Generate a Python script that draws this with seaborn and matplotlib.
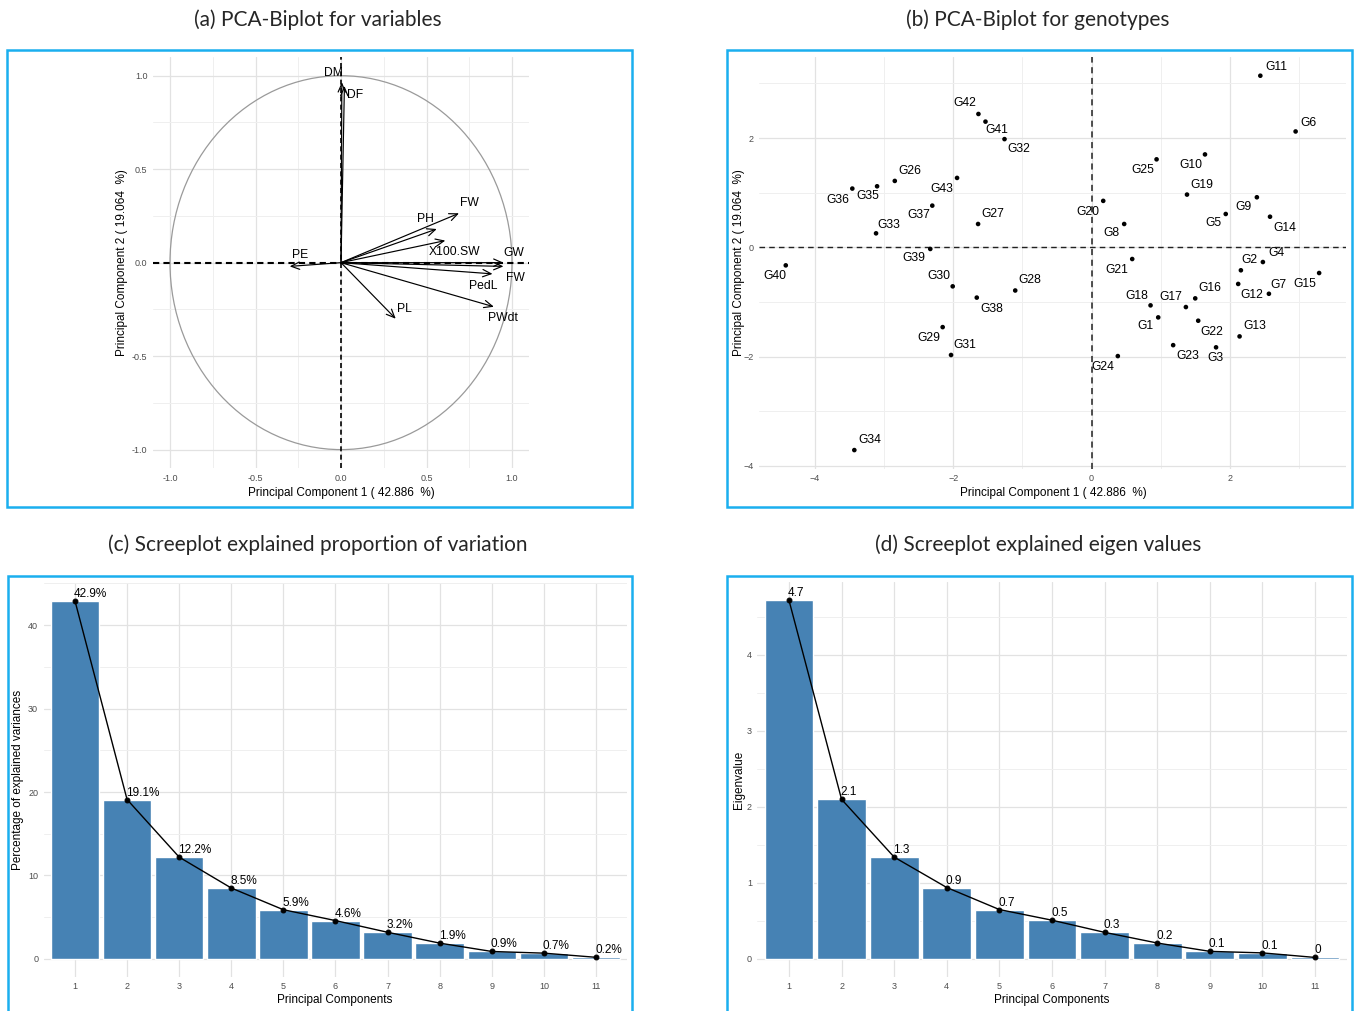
import numpy as np
import pandas as pd
import matplotlib
matplotlib.use("Agg")
import matplotlib.pyplot as plt
import seaborn as sns
from matplotlib.patches import Rectangle, Ellipse
from matplotlib.ticker import MultipleLocator, FixedLocator

# ---------------- data ----------------
pc1_pct = 42.886
pc2_pct = 19.064

var_names = ["DM", "DF", "FW", "PH", "X100.SW", "GW", "FW", "PedL", "PWdt", "PL", "PE"]
var_pc1 = [0.005, 0.02, 0.69, 0.56, 0.61, 0.95, 0.95, 0.886, 0.894, 0.32, -0.30]
var_pc2 = [0.965, 0.945, 0.264, 0.18, 0.118, 0.0, -0.02, -0.06, -0.236, -0.30, -0.02]

geno_names = ["G%d" % i for i in range(1, 44)]
geno_pc1 = [0.964, 2.159, 1.80, 2.477, 1.94, 2.95, 2.564, 0.472, 2.39, 1.64,
            2.44, 2.12, 2.14, 2.58, 3.29, 1.499, 1.364, 0.853, 1.38, 0.169,
            0.588, 1.542, 1.18, 0.38, 0.94, -2.844, -1.64, -1.103, -2.152, -2.007,
            -2.031, -1.258, -3.115, -3.429, -3.10, -3.458, -2.302, -1.659, -2.331, -4.42,
            -1.533, -1.635, -1.944]
geno_pc2 = [-1.282, -0.42, -1.83, -0.269, 0.61, 2.12, -0.85, 0.427, 0.916, 1.70,
            3.14, -0.67, -1.63, 0.56, -0.47, -0.934, -1.093, -1.062, 0.965, 0.85,
            -0.214, -1.343, -1.79, -1.99, 1.61, 1.215, 0.427, -0.79, -1.46, -0.714,
            -1.97, 1.98, 0.256, -3.71, 1.117, 1.075, 0.763, -0.92, -0.03, -0.33,
            2.30, 2.44, 1.27]

pc_labels = [str(i) for i in range(1, 12)]
pct_var = [42.9, 19.1, 12.2, 8.5, 5.9, 4.6, 3.2, 1.9, 0.9, 0.7, 0.2]
eigenvalues = [4.72, 2.10, 1.34, 0.94, 0.65, 0.51, 0.35, 0.21, 0.10, 0.08, 0.02]

# label placement (pixel offsets, +y = up)
var_label_off = [(-8, 9), (11, -9), (10, 10), (-11, 10), (9, -11), (10, 10),
                 (12, -12), (-9, -12), (9, -11), (9, 10), (10, 11)]
geno_label_off = {
    "G1": (-13, -9), "G2": (9, 10), "G3": (-1, -11), "G4": (14, 9), "G5": (-12, -9),
    "G6": (13, 8), "G7": (10, 9), "G8": (-13, -9), "G9": (-13, -10), "G10": (-14, -11),
    "G11": (16, 9), "G12": (14, -11), "G13": (15, 10), "G14": (15, -11), "G15": (-14, -11),
    "G16": (15, 10), "G17": (-15, 10), "G18": (-14, 9), "G19": (15, 10), "G20": (-15, -11),
    "G21": (-15, -11), "G22": (14, -11), "G23": (15, -11), "G24": (-15, -11), "G25": (-14, -11),
    "G26": (15, 10), "G27": (15, 10), "G28": (15, 10), "G29": (-14, -11), "G30": (-14, 10),
    "G31": (14, 10), "G32": (14, -10), "G33": (13, 8), "G34": (15, 10), "G35": (-9, -10),
    "G36": (-15, -11), "G37": (-13, -9), "G38": (15, -11), "G39": (-16, -9), "G40": (-11, -11),
    "G41": (11, -8), "G42": (-14, 11), "G43": (-15, -11),
}

# ---------------- style ----------------
sns.set_theme(style="white")
plt.rcParams["font.family"] = ["Liberation Sans", "DejaVu Sans"]

W, H = 1355, 1011
fig = plt.figure(figsize=(W / 100, H / 100), dpi=100)
fig.patch.set_facecolor("white")

BORDER = "#1AAFEF"
GRID_MAJ = "#E2E2E2"
GRID_MIN = "#EFEFEF"
TICK_C = "#4D4D4D"
TITLE_FONT = ["Lato", "DejaVu Sans"]


def add_ax(l, t, r, b):
    return fig.add_axes([l / W, 1 - b / H, (r - l) / W, (b - t) / H])


def border(l, t, r, b):
    fig.add_artist(Rectangle((l / W, 1 - b / H), (r - l) / W, (b - t) / H,
                             transform=fig.transFigure, fill=False,
                             ec=BORDER, lw=1.8, zorder=10))


def style_ax(ax):
    ax.set_facecolor("white")
    for s in ax.spines.values():
        s.set_visible(False)
    ax.grid(True, which="major", color=GRID_MAJ, lw=0.9, zorder=0)
    ax.grid(True, which="minor", color=GRID_MIN, lw=0.7, zorder=0)
    ax.set_axisbelow(True)
    ax.tick_params(which="major", length=2.5, width=0.9, color="#333333",
                   labelsize=6.5, labelcolor=TICK_C, pad=1.5)
    ax.tick_params(which="minor", length=0)


def place_labels(ax, xlab, ylab, xc, yc, yxc, yyc):
    # centers in figure pixels -> axes coords
    bb = ax.get_position()
    def to_axes(px, py):
        fx, fy = px / W, 1 - py / H
        return (fx - bb.x0) / bb.width, (fy - bb.y0) / bb.height
    ax.set_xlabel(xlab, fontsize=8.5, color="black", va="center")
    ax.set_ylabel(ylab, fontsize=8.5, color="black", va="center")
    ax.xaxis.set_label_coords(*to_axes(xc, yc))
    ax.yaxis.set_label_coords(*to_axes(yxc, yyc))


# ---------------- panel borders & titles ----------------
border(7, 50, 632, 507)
border(727, 50, 1352, 507)
border(8, 576, 632, 1040)
border(727, 576, 1352, 1040)

fig.text(318 / W, 1 - 20 / H, "(a) PCA-Biplot for variables", ha="center", va="center",
         fontsize=15, family=TITLE_FONT)
fig.text(1038 / W, 1 - 20 / H, "(b) PCA-Biplot for genotypes", ha="center", va="center",
         fontsize=15, family=TITLE_FONT)
fig.text(318 / W, 1 - 545 / H, "(c) Screeplot explained proportion of variation", ha="center",
         va="center", fontsize=15, family=TITLE_FONT)
fig.text(1038 / W, 1 - 545 / H, "(d) Screeplot explained eigen values", ha="center",
         va="center", fontsize=15, family=TITLE_FONT)

# ---------------- (a) variables ----------------
axa = add_ax(152.9, 57, 529.1, 468.3)
style_ax(axa)
axa.set_xlim(-1.1, 1.1)
axa.set_ylim(-1.1, 1.1)
axa.xaxis.set_major_locator(FixedLocator([-1.0, -0.5, 0.0, 0.5, 1.0]))
axa.yaxis.set_major_locator(FixedLocator([-1.0, -0.5, 0.0, 0.5, 1.0]))
axa.xaxis.set_minor_locator(FixedLocator([-0.75, -0.25, 0.25, 0.75]))
axa.yaxis.set_minor_locator(FixedLocator([-0.75, -0.25, 0.25, 0.75]))
axa.set_xticklabels(["-1.0", "-0.5", "0.0", "0.5", "1.0"])
axa.set_yticklabels(["-1.0", "-0.5", "0.0", "0.5", "1.0"])
axa.add_patch(Ellipse((0, 0), 2, 2, fill=False, ec="#9A9A9A", lw=0.9, zorder=2))
axa.axhline(0, color="black", lw=1.5, ls=(0, (3, 2)), zorder=3)
axa.axvline(0, color="black", lw=1.2, ls=(0, (3, 2)), zorder=3)
dfv = pd.DataFrame({"name": var_names, "PC1": var_pc1, "PC2": var_pc2})
for (nm, x, y), off in zip(dfv.itertuples(index=False), var_label_off):
    axa.annotate("", xy=(x, y), xytext=(0, 0),
                 arrowprops=dict(arrowstyle="->,head_length=0.5,head_width=0.22",
                                 color="black", lw=0.85, shrinkA=0, shrinkB=0),
                 zorder=4)
    axa.annotate(nm, xy=(x, y), xytext=off, textcoords="offset pixels",
                 ha="center", va="center", fontsize=8.7, color="black", zorder=5)
place_labels(axa, "Principal Component 1 ( %.3f  %%)" % pc1_pct,
             "Principal Component 2 ( %.3f  %%)" % pc2_pct,
             341, 493, 122, 263)

# ---------------- (b) genotypes ----------------
axb = add_ax(759.1, 57, 1345.8, 468.8)
style_ax(axb)
dfg = pd.DataFrame({"name": geno_names, "PC1": geno_pc1, "PC2": geno_pc2})
sns.scatterplot(data=dfg, x="PC1", y="PC2", color="black", s=11, edgecolor="none",
                ax=axb, zorder=4)
xr = dfg.PC1.max() - dfg.PC1.min()
yr = dfg.PC2.max() - dfg.PC2.min()
axb.set_xlim(dfg.PC1.min() - 0.05 * xr, dfg.PC1.max() + 0.05 * xr)
axb.set_ylim(dfg.PC2.min() - 0.05 * yr, dfg.PC2.max() + 0.05 * yr)
axb.xaxis.set_major_locator(FixedLocator([-4, -2, 0, 2]))
axb.yaxis.set_major_locator(FixedLocator([-4, -2, 0, 2]))
axb.xaxis.set_minor_locator(FixedLocator([-3, -1, 1, 3]))
axb.yaxis.set_minor_locator(FixedLocator([-3, -1, 1, 3]))
axb.axhline(0, color="#222222", lw=1.0, ls=(0, (4, 3)), zorder=3)
axb.axvline(0, color="#222222", lw=1.1, ls=(0, (4, 3)), zorder=3)
for nm, x, y in dfg.itertuples(index=False):
    axb.annotate(nm, xy=(x, y), xytext=geno_label_off[nm], textcoords="offset pixels",
                 ha="center", va="center", fontsize=8.7, color="black", zorder=5)
place_labels(axb, "Principal Component 1 ( %.3f  %%)" % pc1_pct,
             "Principal Component 2 ( %.3f  %%)" % pc2_pct,
             1053, 493, 739, 263)


# ---------------- scree plots ----------------
def scree(ax, values, fmt, major, minor):
    style_ax(ax)
    dfs = pd.DataFrame({"PC": pc_labels, "val": values})
    sns.barplot(data=dfs, x="PC", y="val", order=pc_labels, color="#4682B4",
                saturation=1, width=0.93, ax=ax, zorder=2)
    sns.pointplot(data=dfs, x="PC", y="val", order=pc_labels, color="black",
                  markers="o", markersize=3.5, linewidth=1.0, errorbar=None,
                  ax=ax, zorder=4)
    for i, v in enumerate(values):
        ax.annotate(fmt(v), xy=(i, v), xytext=(-1, 1), textcoords="offset pixels",
                    ha="left", va="bottom", fontsize=8.5, color="black", zorder=5)
    vmax = max(values)
    ax.set_xlim(-0.6, len(values) - 0.4)
    ax.set_ylim(-0.05 * vmax, 1.05 * vmax)
    ax.yaxis.set_major_locator(MultipleLocator(major))
    ax.yaxis.set_minor_locator(MultipleLocator(minor))
    ax.xaxis.grid(True, which="major", color=GRID_MAJ, lw=0.9)
    return ax


axc = add_ax(43.7, 582.9, 627.3, 976.9)
scree(axc, pct_var, lambda v: "%.1f%%" % v, 10, 5)
place_labels(axc, "Principal Components", "Percentage of explained variances",
             335, 1000, 18, 780)

axd = add_ax(757.4, 582.3, 1346.6, 976.9)
scree(axd, eigenvalues, lambda v: "%g" % round(v, 1), 1, 0.5)
place_labels(axd, "Principal Components", "Eigenvalue", 1052, 1000, 739, 780)

fig.savefig("out.png", dpi=100, facecolor="white")
